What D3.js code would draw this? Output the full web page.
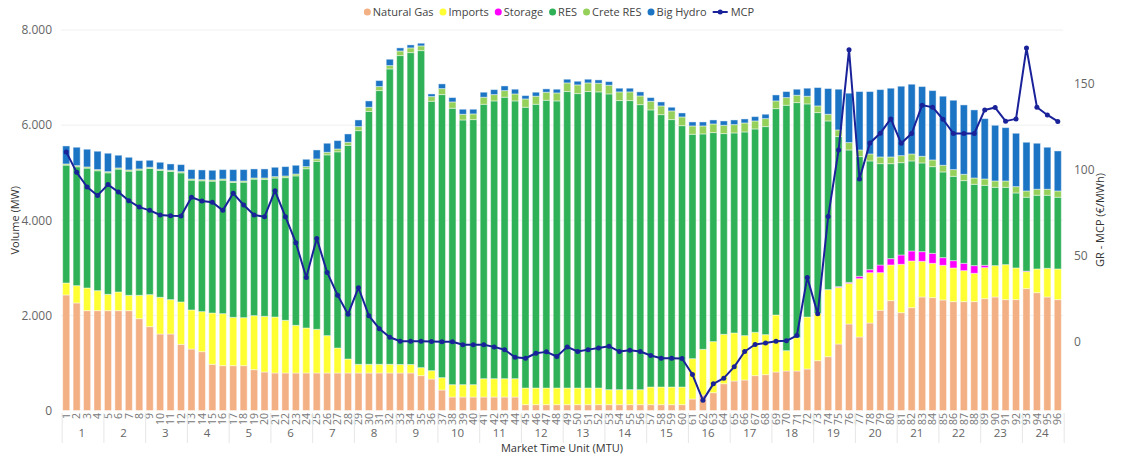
<!DOCTYPE html>
<html>
<head>
<meta charset="utf-8">
<script src="https://cdn.jsdelivr.net/npm/d3@7"></script>
<style>
body { margin: 0; background: #fff; }
svg text { font-family: "Segoe UI", "Open Sans", sans-serif; }
</style>
</head>
<body>
<svg id="chart" width="1128" height="455"></svg>
<script>
// categories
const mtu = d3.range(1, 97);
const hours = d3.range(1, 25);

// series values (MW)
const naturalGas = [2429,2261,2099,2099,2099,2099,2099,1931,1763,1609,1609,1391,1293,1237,971,943,943,943,859,810,789,789,789,789,
  789,789,789,789,789,789,789,789,789,789,733,662,431,284,284,284,284,284,284,284,123,123,123,123,
  123,123,123,123,123,123,123,123,123,123,123,123,242,326,375,564,620,641,733,754,810,831,831,873,
  1048,1132,1398,1819,1546,1840,2107,2310,2057,2162,2387,2373,2324,2289,2289,2289,2352,2387,2331,2331,2562,2478,2387,2331];
const imports = [252,364,477,421,344,393,323,491,673,771,722,891,821,842,1079,1093,1016,1009,1135,1170,1177,1107,1002,946,
  918,785,525,294,182,182,182,182,178,178,168,176,260,259,259,259,385,385,385,385,350,350,350,350,
  350,350,350,350,315,315,315,315,371,371,371,371,848,960,1073,1038,1010,933,911,841,1198,427,700,1093,
  996,1409,1192,855,1226,1058,791,750,1017,982,750,722,729,708,652,596,652,659,736,666,358,498,603,645];
const storage = [0,0,0,0,0,0,0,0,0,0,0,0,0,0,0,0,0,0,0,0,0,0,0,0,
  0,0,0,0,0,0,0,0,0,0,0,0,0,0,0,0,0,0,0,0,0,0,0,0,
  0,0,0,0,0,0,0,0,0,0,0,0,0,0,0,0,0,0,0,0,0,0,0,0,
  0,0,15,20,50,63,161,133,196,210,203,210,161,154,154,161,49,0,0,0,10,0,0,0];
const res = [2478,2499,2520,2520,2554,2583,2611,2632,2653,2667,2695,2715,2729,2750,2772,2807,2835,2849,2870,2879,2921,3000,3142,3348,
  3532,3801,4125,4492,4913,5315,5755,6211,6495,6558,6666,5664,5951,5812,5566,5573,5770,5840,5918,5840,5903,5966,6050,6036,
  6233,6190,6233,6226,6218,6078,6078,5993,5826,5727,5622,5495,4718,4529,4395,4220,4206,4283,4276,4374,4339,5160,4943,4480,
  4220,3547,3154,2784,2516,2286,2131,1997,1941,1893,1865,1822,1802,1773,1738,1710,1682,1647,1626,1577,1554,1550,1536,1508];
const creteRes = [25,25,25,25,25,25,25,25,25,25,25,25,25,25,25,25,25,25,25,30,30,35,40,45,
  50,55,60,65,85,90,85,70,98,99,99,98,126,133,120,120,148,133,139,147,175,169,169,168,
  182,183,182,182,183,183,183,183,182,183,183,183,175,168,182,175,175,189,168,168,162,161,155,162,
  140,141,140,155,140,147,141,141,148,147,140,141,140,141,133,133,133,133,133,133,132,126,126,132];
const bigHydro = [378,386,372,386,387,267,266,175,147,147,133,148,197,204,204,197,246,239,190,190,197,197,183,154,
  189,189,176,175,140,133,126,133,64,63,56,56,99,91,105,98,105,105,98,99,70,84,70,78,
  77,77,77,70,76,77,77,85,77,84,77,84,84,84,84,91,98,84,91,92,126,127,126,168,
  386,540,856,1038,1228,1312,1416,1445,1459,1466,1466,1458,1452,1458,1459,1431,1269,1171,1122,1122,1024,967,883,841];
// GR - MCP (EUR/MWh)
const mcp = [110.1,98.2,89.7,84.8,91.1,86.8,81.7,78.0,76.1,73.4,73.0,72.8,83.7,81.5,80.8,76.1,86.0,79.2,73.4,72.4,87.5,72.4,57.3,37.1,
  59.8,40.0,26.8,15.7,31.1,14.8,7.3,2.3,0.0,0.0,0.0,-0.2,-0.3,-0.3,-2.1,-2.1,-2.1,-3.3,-5.0,-9.3,-9.9,-7.0,-6.2,-8.9,
  -3.3,-6.0,-4.9,-3.9,-2.9,-6.0,-5.2,-6.0,-8.3,-9.9,-9.9,-10.1,-19.4,-34.4,-24.8,-21.5,-14.9,-6.0,-1.9,-1.0,0.0,0.2,3.3,37.1,
  15.9,72.5,111.2,169.5,94.4,115.3,121.0,129.3,115.1,120.8,137.3,136.1,129.1,120.8,120.8,120.8,134.5,135.9,128.0,129.3,170.5,136.1,131.6,127.8];

const seriesNames = ["Natural Gas", "Imports", "Storage", "RES", "Crete RES", "Big Hydro"];
const seriesValues = [naturalGas, imports, storage, res, creteRes, bigHydro];
const seriesColors = ["#f3b084", "#ffff33", "#ff00ff", "#2fb157", "#95d05a", "#1b74c4"];
const mcpColor = "#1a2299";
const volumeTicks = [0, 2000, 4000, 6000, 8000];
const mcpTicks = [0, 50, 100, 150];

const svg = d3.select("svg#chart");
const plot = { left: 61, right: 1063, top: 30, bottom: 410.5 };

const rows = mtu.map((m, i) => {
  const row = { mtu: m };
  seriesNames.forEach((name, j) => (row[name] = seriesValues[j][i]));
  return row;
});
const stacked = d3.stack().keys(seriesNames)(rows);

const xScale = d3.scaleBand(mtu, [plot.left, plot.right]).paddingInner(0.32).paddingOuter(0.16);
const yScale = d3.scaleLinear([0, 8000], [plot.bottom, plot.top]);
const y2Scale = d3.scaleLinear([-40.3, 181], [plot.bottom, plot.top]);
const colorScale = d3.scaleOrdinal(seriesNames, seriesColors);

const locale = d3.formatLocale({ decimal: ",", thousands: ".", grouping: [3], currency: ["", ""] });
const fmt = locale.format(",");

// gridlines
svg.append("g")
  .selectAll("line")
  .data(volumeTicks.slice(1))
  .join("line")
  .attr("x1", plot.left)
  .attr("x2", plot.right)
  .attr("y1", (d) => yScale(d))
  .attr("y2", (d) => yScale(d))
  .attr("stroke", "#f0f0f0")
  .attr("stroke-width", 1);

// left axis
const yAxis = svg.append("g")
  .attr("transform", `translate(${plot.left - 6},0)`)
  .call(d3.axisLeft(yScale).tickValues(volumeTicks).tickFormat(fmt).tickSize(0));
yAxis.select(".domain").remove();
yAxis.selectAll("text").attr("font-size", 12).attr("fill", "#666").attr("font-family", '"Segoe UI","Open Sans",sans-serif');

// right axis
const y2Axis = svg.append("g")
  .attr("transform", `translate(${plot.right + 8},0)`)
  .call(d3.axisRight(y2Scale).tickValues(mcpTicks).tickSize(0));
y2Axis.select(".domain").remove();
y2Axis.selectAll("text").attr("font-size", 12).attr("fill", "#666").attr("font-family", '"Segoe UI","Open Sans",sans-serif');

// axis titles
svg.append("text")
  .attr("transform", `translate(19,${(plot.top + plot.bottom) / 2}) rotate(-90)`)
  .attr("text-anchor", "middle")
  .attr("font-size", 11)
  .attr("fill", "#333")
  .text("Volume (MW)");
svg.append("text")
  .attr("transform", `translate(1104,220) rotate(-90)`)
  .attr("text-anchor", "middle")
  .attr("font-size", 11)
  .attr("fill", "#333")
  .text("GR - MCP (€/MWh)");
svg.append("text")
  .attr("x", (plot.left + plot.right) / 2)
  .attr("y", 452)
  .attr("text-anchor", "middle")
  .attr("font-size", 11)
  .attr("fill", "#333")
  .text("Market Time Unit (MTU)");

// stacked bars
svg.append("g")
  .selectAll("g")
  .data(stacked)
  .join("g")
  .attr("fill", (d) => colorScale(d.key))
  .selectAll("rect")
  .data((d) => d)
  .join("rect")
  .attr("x", (d) => xScale(d.data.mtu))
  .attr("y", (d) => yScale(d[1]))
  .attr("width", xScale.bandwidth())
  .attr("height", (d) => Math.max(0, yScale(d[0]) - yScale(d[1])))
  .attr("stroke", "#fff")
  .attr("stroke-opacity", 0.45)
  .attr("stroke-width", 1);

// x axis: MTU labels
svg.append("g")
  .selectAll("text")
  .data(mtu)
  .join("text")
  .attr("transform", (d) => `translate(${xScale(d) + xScale.bandwidth() / 2},413) rotate(-90)`)
  .attr("text-anchor", "end")
  .attr("dy", "0.35em")
  .attr("font-size", 10.5)
  .attr("fill", "#777")
  .text((d) => d);

// x axis: hour groups
const step = xScale.step();
svg.append("g")
  .selectAll("line")
  .data(d3.range(0, 25))
  .join("line")
  .attr("x1", (k) => xScale(1) + k * 4 * step - 0.5)
  .attr("x2", (k) => xScale(1) + k * 4 * step - 0.5)
  .attr("y1", 413)
  .attr("y2", 443)
  .attr("stroke", "#e6e6e6")
  .attr("stroke-width", 1);
svg.append("g")
  .selectAll("text")
  .data(hours)
  .join("text")
  .attr("x", (h) => (xScale((h - 1) * 4 + 1) + xScale(h * 4) + xScale.bandwidth()) / 2)
  .attr("y", 436.5)
  .attr("text-anchor", "middle")
  .attr("font-size", 11.5)
  .attr("fill", "#666")
  .text((h) => h);

// MCP line
const line = d3.line()
  .x((d, i) => xScale(mtu[i]) + xScale.bandwidth() / 2)
  .y((d) => y2Scale(d));
svg.append("path")
  .datum(mcp)
  .attr("d", line)
  .attr("fill", "none")
  .attr("stroke", mcpColor)
  .attr("stroke-width", 2)
  .attr("stroke-linejoin", "round");
svg.append("g")
  .selectAll("circle")
  .data(mcp)
  .join("circle")
  .attr("cx", (d, i) => xScale(mtu[i]) + xScale.bandwidth() / 2)
  .attr("cy", (d) => y2Scale(d))
  .attr("r", 2.5)
  .attr("fill", mcpColor);

// legend
const legend = svg.append("g").attr("transform", "translate(0,12)");
let cursor = 0;
const legendItems = seriesNames.concat(["MCP"]);
legendItems.forEach((name) => {
  const item = legend.append("g").attr("transform", `translate(${cursor},0)`);
  let offset;
  if (name === "MCP") {
    item.append("line").attr("x1", 0).attr("x2", 15).attr("y1", 0).attr("y2", 0)
      .attr("stroke", mcpColor).attr("stroke-width", 2);
    item.append("circle").attr("cx", 7.5).attr("cy", 0).attr("r", 2.5).attr("fill", mcpColor);
    offset = 18;
  } else {
    item.append("circle").attr("cx", 3.5).attr("cy", 0).attr("r", 3.5).attr("fill", colorScale(name));
    offset = 9;
  }
  const t = item.append("text")
    .attr("x", offset)
    .attr("dy", "0.35em")
    .attr("font-size", 11)
    .attr("fill", "#444")
    .text(name);
  cursor += offset + t.node().getComputedTextLength() + 6;
});
const legendWidth = cursor - 6;
legend.attr("transform", `translate(${559 - legendWidth / 2},12)`);
</script>
</body>
</html>
